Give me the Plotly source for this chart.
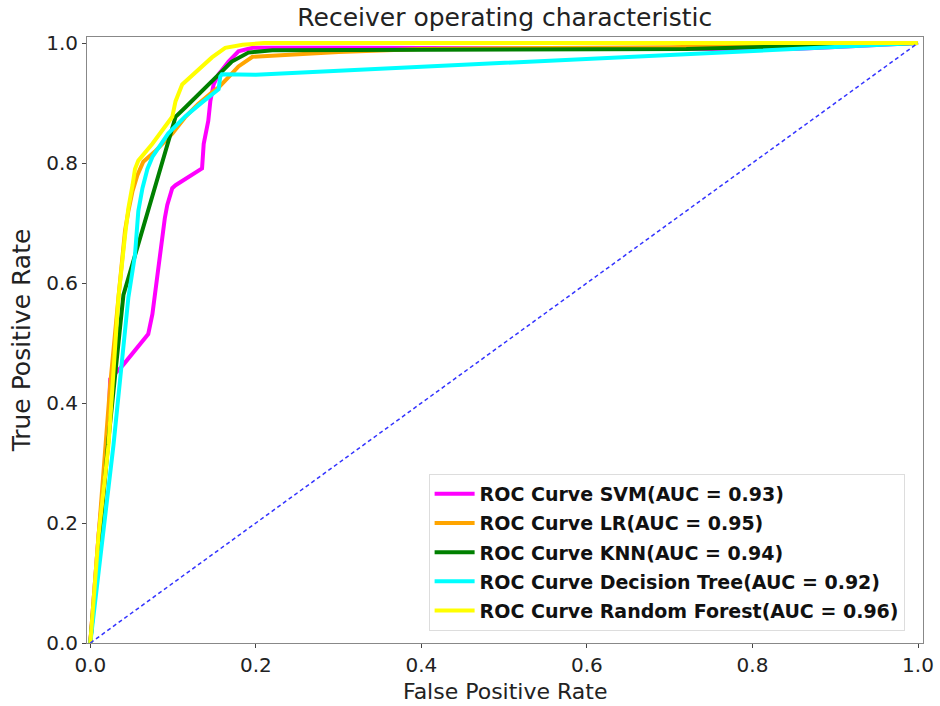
import plotly.graph_objects as go

# ---- data ----
svm_fpr = [0, 0.010, 0.021, 0.024, 0.040, 0.070, 0.075, 0.079, 0.085, 0.090, 0.093, 0.099, 0.103, 0.135, 0.137, 0.1425, 0.145, 0.149, 0.155, 0.167, 0.179, 0.196, 0.30, 0.60, 0.85, 1.0]
svm_tpr = [0, 0.180, 0.330, 0.440, 0.464, 0.515, 0.548, 0.593, 0.664, 0.708, 0.730, 0.758, 0.763, 0.791, 0.832, 0.870, 0.903, 0.931, 0.948, 0.969, 0.986, 0.992, 0.992, 0.991, 0.990, 1.0]

lr_fpr = [0, 0.010, 0.020, 0.024, 0.034, 0.036, 0.040, 0.042, 0.046, 0.051, 0.057, 0.064, 0.078, 0.099, 0.115, 0.130, 0.147, 0.155, 0.167, 0.179, 0.196, 0.240, 0.300, 0.400, 0.700, 1.0]
lr_tpr = [0, 0.180, 0.345, 0.430, 0.576, 0.604, 0.647, 0.688, 0.720, 0.753, 0.780, 0.802, 0.819, 0.849, 0.877, 0.898, 0.918, 0.926, 0.943, 0.961, 0.977, 0.980, 0.985, 0.990, 0.993, 1.0]

knn_fpr = [0, 0.011, 0.022, 0.040, 0.103, 0.115, 0.135, 0.155, 0.171, 0.191, 0.220, 0.720, 1.0]
knn_tpr = [0, 0.180, 0.340, 0.580, 0.877, 0.893, 0.920, 0.948, 0.969, 0.984, 0.988, 0.990, 1.0]

dt_fpr = [0, 0.013, 0.028, 0.046, 0.054, 0.058, 0.063, 0.069, 0.075, 0.094, 0.115, 0.135, 0.155, 0.157, 0.159, 0.200, 1.0]
dt_tpr = [0, 0.150, 0.330, 0.576, 0.647, 0.720, 0.758, 0.790, 0.810, 0.849, 0.878, 0.901, 0.923, 0.944, 0.948, 0.947, 1.0]

rf_fpr = [0, 0.010, 0.022, 0.034, 0.042, 0.046, 0.051, 0.054, 0.058, 0.075, 0.099, 0.103, 0.111, 0.127, 0.147, 0.163, 0.184, 0.210, 1.0]
rf_tpr = [0, 0.180, 0.330, 0.576, 0.680, 0.725, 0.763, 0.790, 0.804, 0.832, 0.877, 0.903, 0.931, 0.951, 0.976, 0.992, 0.997, 1.000, 1.0]

diag = [0, 1]

series_names = [
    "ROC Curve SVM(AUC = 0.93)",
    "ROC Curve LR(AUC = 0.95)",
    "ROC Curve KNN(AUC = 0.94)",
    "ROC Curve Decision Tree(AUC = 0.92)",
    "ROC Curve Random Forest(AUC = 0.96)",
]
series_colors = ["#ff00ff", "#ffa500", "#008000", "#00ffff", "#ffff00"]
tick_vals = [0.0, 0.2, 0.4, 0.6, 0.8, 1.0]
tick_text = ["0.0", "0.2", "0.4", "0.6", "0.8", "1.0"]

FONT = "DejaVu Sans"

fig = go.Figure()
xs = [svm_fpr, lr_fpr, knn_fpr, dt_fpr, rf_fpr]
ys = [svm_tpr, lr_tpr, knn_tpr, dt_tpr, rf_tpr]
for i, (x, y, name, c) in enumerate(zip(xs, ys, series_names, series_colors)):
    fig.add_trace(go.Scatter(x=x, y=y, mode="lines", name=name, legendgroup=f"g{i}",
                             line=dict(color=c, width=4)))
fig.add_trace(go.Scatter(x=diag, y=diag, mode="lines", showlegend=False,
                         line=dict(color="#3333ff", width=1.5, dash="4px,3px")))

axis_common = dict(
    tickvals=tick_vals, ticktext=tick_text, showgrid=False, zeroline=False,
    showline=True, mirror=True, linecolor="#888888", linewidth=1,
    ticks="outside", ticklen=4, tickcolor="#444444", automargin=False,
    tickfont=dict(family=FONT, size=20, color="#222222"),
)
fig.update_layout(
    width=940, height=706,
    margin=dict(l=87, r=17, t=37, b=63, autoexpand=False),
    paper_bgcolor="white", plot_bgcolor="white",
    font=dict(family=FONT, color="#222222"),
    title=dict(text="Receiver operating characteristic", x=0.537, xanchor="center",
               y=0.975, yanchor="middle", font=dict(family=FONT, size=25, color="#222222")),
    xaxis=dict(range=[-0.004, 1.006], **axis_common),
    yaxis=dict(range=[0, 1.01], **axis_common),
    legend=dict(x=0.978, y=0.02, xanchor="right", yanchor="bottom",
                bgcolor="rgba(255,255,255,0.85)", bordercolor="#dddddd", borderwidth=1,
                font=dict(family=FONT, size=19, color="#111111", weight="bold"),
                tracegroupgap=1.5, itemwidth=40),
    annotations=[
        dict(text="False Positive Rate", xref="paper", yref="paper", x=0.5, y=-0.1031,
             xanchor="center", yanchor="bottom", showarrow=False, borderpad=0,
             font=dict(family=FONT, size=22, color="#222222")),
        dict(text="True Positive Rate", xref="paper", yref="paper", x=-0.0785, y=0.5,
             xanchor="center", yanchor="middle", showarrow=False, textangle=-90,
             font=dict(family=FONT, size=25, color="#222222")),
    ],
)
fig.write_html("out.html")
